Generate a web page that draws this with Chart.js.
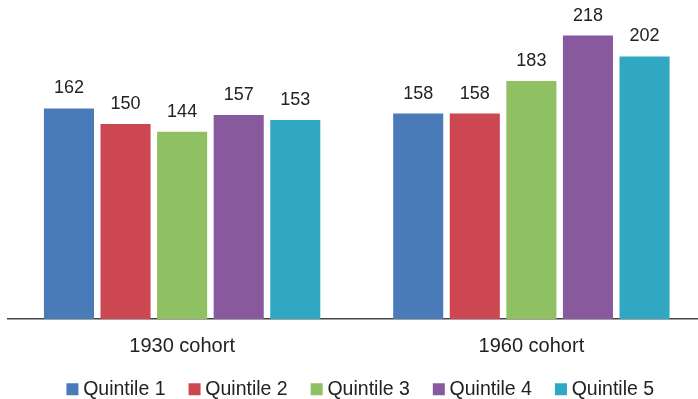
<!DOCTYPE html>
<html>
<head>
<meta charset="utf-8">
<script src="https://cdn.jsdelivr.net/npm/chart.js@4"></script>
<style>
  html, body { margin: 0; padding: 0; background: #fff; overflow: hidden; }
  #wrap { position: relative; width: 706px; height: 431px; }
</style>
</head>
<body>
<div id="wrap"><canvas id="myChart"></canvas></div>
<script>
// datos del gráfico
const cohorts = ['1930 cohort', '1960 cohort'];
const quintiles = ['Quintile 1', 'Quintile 2', 'Quintile 3', 'Quintile 4', 'Quintile 5'];
const q1 = [162, 158];
const q2 = [150, 158];
const q3 = [144, 183];
const q4 = [157, 218];
const q5 = [153, 202];
const colores = ['#4a7ab8', '#cc4751', '#8fc163', '#885a9d', '#31a8c3'];

const series = [q1, q2, q3, q4, q5];
const fuente = '"Liberation Sans", Arial, sans-serif';

// etiquetas de valor encima de cada barra
const valueLabels = {
    id: 'valueLabels',
    afterDatasetsDraw(chart) {
        const ctx = chart.ctx;
        ctx.save();
        ctx.font = '18px ' + fuente;
        ctx.fillStyle = '#222';
        ctx.textAlign = 'center';
        ctx.textBaseline = 'middle';
        chart.data.datasets.forEach((ds, i) => {
            chart.getDatasetMeta(i).data.forEach((bar, j) => {
                ctx.fillText(ds.data[j], bar.x, bar.y - 20);
            });
        });
        ctx.restore();
    }
};

// la leyenda del original está un poco corrida (derecha y arriba)
const shiftLegend = {
    id: 'shiftLegend',
    afterLayout(chart) {
        const lg = chart.legend;
        lg.left += 6;
        lg.right += 6;
        lg.top -= 22;
        lg.bottom -= 22;
    }
};

new Chart(document.getElementById('myChart'), {
    type: 'bar',
    data: {
        labels: cohorts,
        datasets: quintiles.map((q, i) => ({
            label: q,
            data: series[i],
            backgroundColor: colores[i],
            categoryPercentage: 0.81,
            barPercentage: 0.885
        }))
    },
    options: {
        responsive: true,
        maintainAspectRatio: false,
        animation: false,
        layout: { padding: { top: 7, left: 7.5, right: 0, bottom: 0 } },
        plugins: {
            tooltip: { enabled: false },
            legend: {
                position: 'bottom',
                labels: {
                    usePointStyle: true,
                    pointStyle: 'rect',
                    boxWidth: 2,
                    boxHeight: 12,
                    padding: 28,
                    color: '#222',
                    font: { family: fuente, size: 19.5 }
                }
            }
        },
        scales: {
            x: {
                grid: { display: false, drawTicks: false },
                border: { display: true, color: '#444', width: 1.5 },
                ticks: {
                    color: '#222',
                    padding: 22,
                    font: { family: fuente, size: 20, lineHeight: 0.525 }
                }
            },
            y: { display: false, min: 0, max: 240 }
        }
    },
    plugins: [valueLabels, shiftLegend]
});
</script>
</body>
</html>
